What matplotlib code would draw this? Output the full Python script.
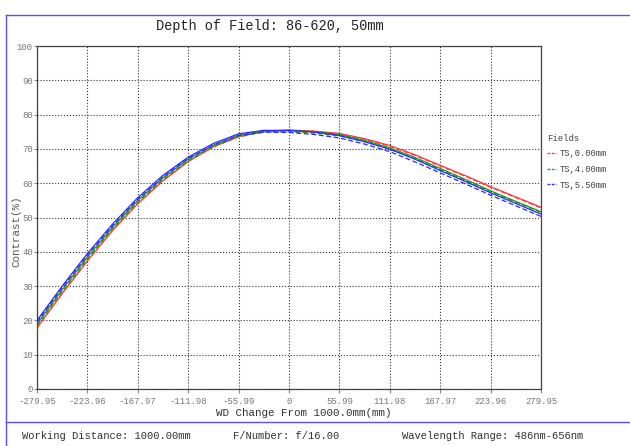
import matplotlib
matplotlib.use("Agg")
import matplotlib.pyplot as plt
from matplotlib.lines import Line2D

plt.rcParams['font.family'] = ['Liberation Mono', 'DejaVu Sans Mono']

# focus shift (mm) and contrast (%)
x = [-279.95, -251.96, -223.96, -195.97, -167.97, -139.98, -111.98, -83.99, -55.99, -27.99, 0,
     27.99, 55.99, 83.99, 111.98, 139.98, 167.97, 195.97, 223.96, 251.96, 279.95]
red_t = [17.8, 27.8, 37.3, 46.2, 54.0, 60.7, 66.3, 70.6, 73.6, 75.1, 75.5,
         75.2, 74.5, 73.0, 71.0, 68.3, 65.2, 62.2, 59.0, 56.0, 53.0]
red_s = [18.0, 28.0, 37.5, 46.4, 54.2, 60.8, 66.4, 70.6, 73.5, 75.0, 75.3,
         75.0, 74.3, 72.8, 70.8, 68.1, 65.0, 62.0, 58.8, 55.8, 52.8]
green_t = [19.0, 29.0, 38.5, 47.2, 55.0, 61.6, 67.0, 71.1, 74.0, 75.3, 75.4,
           75.0, 74.2, 72.5, 70.3, 67.5, 64.3, 61.1, 57.8, 54.7, 51.7]
green_s = [18.6, 28.5, 38.0, 46.8, 54.6, 61.2, 66.6, 70.7, 73.6, 74.9, 75.0,
           74.6, 73.8, 72.1, 70.0, 67.2, 64.0, 60.8, 57.5, 54.5, 51.5]
blue_t = [20.0, 30.0, 39.5, 48.1, 55.8, 62.3, 67.6, 71.6, 74.4, 75.4, 75.4,
          74.9, 73.9, 72.1, 69.9, 67.0, 63.7, 60.5, 57.2, 54.1, 51.0]
blue_s = [19.5, 29.5, 39.0, 47.6, 55.3, 61.8, 67.2, 71.1, 73.9, 74.9, 74.8,
          74.2, 73.2, 71.4, 69.2, 66.2, 63.0, 59.8, 56.5, 53.4, 50.3]

xticks = [-279.95, -223.96, -167.97, -111.98, -55.99, 0, 55.99, 111.98, 167.97, 223.96, 279.95]
xtick_labels = ['-279.95', '-223.96', '-167.97', '-111.98', '-55.99', '0',
                '55.99', '111.98', '167.97', '223.96', '279.95']
yticks = [0, 10, 20, 30, 40, 50, 60, 70, 80, 90, 100]
fields = ['TS,0.00mm', 'TS,4.00mm', 'TS,5.50mm']
colors = ['#ff3b3b', '#1f9a1f', '#2b2bff']

fig = plt.figure(figsize=(6.3, 4.46), dpi=100)
ax = fig.add_axes([37 / 630, 57 / 446, 504 / 630, 343 / 446])

pairs = [(red_t, red_s), (green_t, green_s), (blue_t, blue_s)]
for (t, s), c in zip(pairs, colors):
    ax.plot(x, t, color=c, lw=0.9)
    ax.plot(x, s, color=c, lw=0.9, ls=(0, (4, 2)))

ax.set_xlim(-279.95, 279.95)
ax.set_ylim(0, 100)
ax.set_xticks(xticks)
ax.set_xticklabels(xtick_labels)
ax.set_yticks(yticks)
ax.tick_params(labelsize=6.5, labelcolor='#777777', length=3, color='#888888', pad=3)
ax.tick_params(axis='y', length=2, pad=1)
ax.grid(True, color='#333333', ls=':', lw=0.8)
for sp in ax.spines.values():
    sp.set_color('#444444')
    sp.set_linewidth(0.9)

ax.set_xlabel('WD Change From 1000.0mm(mm)', fontsize=7.8, color='#333333')
ax.xaxis.set_label_coords((304 - 37) / 504, -19 / 343)
ax.set_ylabel('Contrast(%)', fontsize=7.8, color='#555555')
ax.yaxis.set_label_coords((21 - 37) / 504, (389 - 231) / 343)

fig.text(270 / 630, 1 - 26 / 446, 'Depth of Field: 86-620, 50mm', ha='center', va='center',
         fontsize=9.8, color='#222222')

handles = [Line2D([0], [0], color=c, lw=1.0, ls=(0, (2, 1))) for c in colors]
leg = fig.legend(handles, fields, title='Fields', loc='upper left',
                 bbox_to_anchor=(539 / 630, 1 - 126 / 446), frameon=False,
                 fontsize=6.3, title_fontsize=6.5, handlelength=1.0,
                 handletextpad=0.5, labelspacing=0.75, labelcolor='#444444')
leg._legend_box.align = 'left'
leg.get_title().set_color('#444444')

# frame lines of the report
blue = '#5555ee'
fig.add_artist(Line2D([6 / 630, 1], [1 - 15 / 446, 1 - 15 / 446], color=blue, lw=1.0))
fig.add_artist(Line2D([6 / 630, 6 / 630], [0, 1 - 15 / 446], color=blue, lw=1.0))
fig.add_artist(Line2D([6 / 630, 1], [1 - 422 / 446, 1 - 422 / 446], color=blue, lw=1.0))

footer_y = 1 - 436 / 446
fig.text(22 / 630, footer_y, 'Working Distance: 1000.00mm', fontsize=7.6, color='#333333', va='center')
fig.text(233 / 630, footer_y, 'F/Number: f/16.00', fontsize=7.6, color='#333333', va='center')
fig.text(402 / 630, footer_y, 'Wavelength Range: 486nm-656nm', fontsize=7.6, color='#333333', va='center')

fig.savefig('out.png', dpi=100)
